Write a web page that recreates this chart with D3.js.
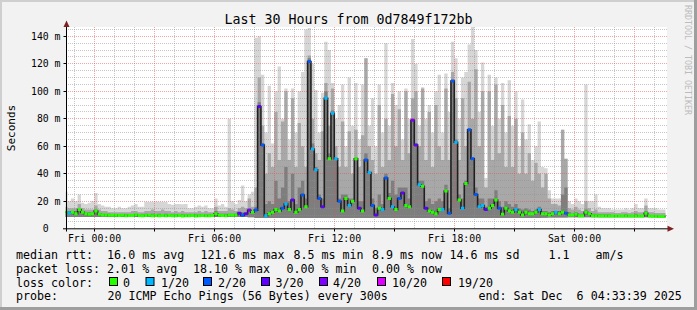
<!DOCTYPE html>
<html><head><meta charset="utf-8">
<script src="https://cdn.jsdelivr.net/npm/d3@7"></script>
<style>
html,body{margin:0;padding:0;background:#F2F2F2;}
svg{display:block;}
text{font-family:"DejaVu Sans Mono",monospace;fill:#000;white-space:pre;}
</style></head><body>
<svg id="chart" width="697" height="310"></svg>
<script>
// ---------------- data ----------------
const title = "Last 30 Hours from 0d7849f172bb";
const yAxisTitle = "Seconds";
const watermark = "RRDTOOL / TOBI OETIKER";
const stepMinutes = 10;
const firstStep = Date.UTC(2025, 11, 4, 22, 30, 0);
const startTime = Date.UTC(2025, 11, 4, 22, 33, 39);
const endTime = Date.UTC(2025, 11, 6, 4, 33, 39);
const yTicks = [0, 20, 40, 60, 80, 100, 120, 140];
const yTickLabels = ["0", "20 m", "40 m", "60 m", "80 m", "100 m", "120 m", "140 m"];

// median rtt (ms) per 10-minute step
const median = [
 12,11.5,12,11,14,12,11,10.5,11,13,
 10.5,10,10,9.8,9.8,9.8,9.6,9.8,9.5,9.6,
 9.7,10.2,9.6,9.5,9.6,9.8,9.5,9.6,9.5,9.7,
 9.5,9.6,9.5,9.5,9.6,9.4,9.5,9.5,9.6,9.4,
 9.5,9.6,9.5,9.5,9.6,11,9.8,9.6,9.5,10,
 9.8,10,11.3,9.8,11,13.5,12,13.6,89,61,
 9.5,11,12,14,13,15,18,14,21,12,
 14,24.5,16,121.6,58,43,22,16,95,51,
 84,51,20,13,22,17,20,51,15,13,
 50,41,17,10,15,14,37,22,16,14,
 22,26,17,16,79,61,32,31,15,13,
 12,11,14,14,27.5,11.3,107.5,63,21,15,
 33,72,51,25,16,17,14,15,17,21,
 15,10.5,15,13,12,14,12,10,12,11,
 11,12,14,11,11,10,11,12,11,12,
 11.3,10,10,10.5,9.5,9.5,12,11,9.5,9.5,
 9.4,9.3,9.4,9.3,9.4,9.3,9.3,9.4,9.3,9.4,
 9.3,9.4,9.3,9.4,11.3,9.4,9.2,9.1,9.0,9.0,
 8.9];
// lost pings out of 20 per step
const loss = [
 0,1,0,0,0,0,0,0,0,0,
 0,0,0,0,0,0,0,0,0,0,
 0,0,0,0,0,0,0,0,0,0,
 0,0,0,0,0,0,0,0,0,0,
 0,0,0,0,0,0,0,0,0,0,
 0,0,3,2,3,4,0,2,3,2,
 1,0,0,0,0,2,1,0,3,0,
 0,2,0,2,1,1,2,3,1,0,
 1,1,2,0,0,1,0,0,3,0,
 2,1,2,3,0,1,2,0,1,0,
 2,3,0,0,4,3,1,0,3,0,
 0,0,0,1,0,2,2,1,0,1,
 0,2,2,2,1,1,3,0,0,0,
 2,0,0,0,0,1,0,0,0,0,
 0,0,1,0,0,0,0,1,0,0,
 2,0,0,0,0,0,0,0,0,0,
 0,0,0,0,0,0,0,0,0,0,
 0,0,0,0,0,0,0,0,0,0,
 0];
// smoke: lowest ping, dense core top, upper body top and highest ping (ms)
const pingMin = [
 8.6,8.6,8.5,8.6,8.6,8.5,8.6,8.6,8.5,8.6,
 8.6,8.5,8.6,8.6,8.5,8.6,8.6,8.5,8.6,8.6,
 8.5,8.6,8.6,8.5,8.6,8.6,8.5,8.6,8.6,8.5,
 8.6,8.6,8.5,8.6,8.6,8.5,8.6,8.6,8.5,8.6,
 8.6,8.5,8.6,8.6,8.5,8.6,8.6,8.5,8.6,8.6,
 8.5,8.6,8.6,8.5,8.6,8.4,8.4,7.8,7.8,7.9,
 7.8,7.8,7.9,7.8,7.8,7.9,7.8,7.8,7.9,7.8,
 7.8,7.9,7.8,7.8,7.9,7.8,7.8,7.9,7.8,7.8,
 7.9,7.8,7.8,7.9,7.8,7.8,7.9,7.8,7.8,7.9,
 7.8,7.8,7.9,7.8,7.8,7.9,7.8,7.8,7.9,7.8,
 7.8,7.9,7.8,7.8,7.9,7.8,7.8,7.9,7.8,7.8,
 7.9,7.8,7.8,7.9,7.8,7.8,7.9,7.8,7.8,7.9,
 7.8,7.8,7.9,7.8,7.8,7.9,7.8,7.8,7.9,7.8,
 7.8,7.9,7.8,7.8,7.9,7.8,7.8,7.9,7.8,7.8,
 7.9,7.8,7.8,8.0,8.1,8.2,8.3,8.3,8.3,8.3,
 8.3,8.4,8.4,8.4,8.4,8.4,8.4,8.4,8.4,8.4,
 8.4,8.4,8.4,8.4,8.4,8.4,8.4,8.4,8.4,8.4,
 8.4,8.4,8.4,8.4,8.4,8.4,8.4,8.4,8.4,8.4,
 8.4];
const pingMid = [
 13,13,13,13,15,13,12,12,12,14,
 11.5,11,11,11,10.5,10.5,10.5,10.5,10.5,10.5,
 10.5,11,10.5,10.5,11,10.5,11,10.5,11,10.5,
 11,10.5,10.5,10.5,10.5,10.5,10.5,10.5,10.5,10.5,
 10.5,10.5,10.5,10.5,10.5,13,11,11,11,11,
 11,11,12,12,12,15,13,16,92,62,
 18,20,18,35,22,30,45,20,40,18,
 30,35,22,124,62,45,25,22,100,55,
 86,50,22,25,25,22,22,52,20,20,
 55,42,22,15,25,18,40,26,35,25,
 30,30,30,22,80,62,35,35,20,22,
 18,20,22,20,32,15,108,65,25,22,
 35,72,52,30,22,22,16,22,22,28,
 20,16,20,18,16,18,15,14,15,14,
 13,14,16,13,13,12,13,13,13,25,
 30,12,11,12,11,11,14,12,11,11,
 10.5,10.5,10.5,10.5,10,10,10,10,10.5,10,
 10,11,10,10,13,10,10,10,10,10,
 10];
const pingHigh = [
 16,15,15,15,18,15,14,14,14,17,
 14,13,13,12,12,12,12,12,12,12,
 13,13,12,12,13,13,14,13,13,14,
 13,13,12,13,12,13,12,12,12,12,
 13,12,13,12,12,16,13,13,13,15,
 14,13,15,16,15,22,16,30,110,75,
 40,55,45,85,50,78,100,50,95,45,
 77,60,45,126,80,55,50,71,106,75,
 102,60,45,78,45,71,40,72,45,68,
 124,60,50,40,90,45,80,50,98,60,
 87,50,100,55,95,100,60,102,50,85,
 45,90,60,50,102,50,114,95,50,95,
 60,107,80,116,60,100,30,100,50,105,
 55,90,45,82,45,80,40,70,40,55,
 35,48,40,30,40,22,18,18,17,72,
 51,15,14,16,14,13,20,15,13,14,
 12,12,12,12,12,11.5,11.5,12,12,11.5,
 12,13,12,12,17,12,12,11.5,11.5,11.5,
 11.5];
const pingMax = [
 27,20,22,20,25,19,18,19,20,26,
 18,17,16,16,15,15,16,15,15,16,
 17,18,16,16,19.7,19.5,19.7,19.8,19.6,19.7,
 19.5,18,17.5,18,18,17.8,18,15,15,16,
 17,16,17,15,15,22,17,18,16,80,
 20,18,21,31.5,20,25,27,139,140,112,
 70,104,62,100,118,80,102,65,102,70,
 100,114,145,146,120,101,70,99,136,130,
 106,80,90,105,60,110,75,106,65,105,
 124,75,95,60,105,70,135,75,106,90,
 100,65,102,80,138,120,75,103,80,90,
 70,100,112,70,113,85,136,124,80,110,
 114,134,147,130,85,121,37,112,75,110,
 80,106,70,108,75,100,60,94,65,76,
 50,60,78,45,44,28,22,22,22,72,
 51,20,18,22,20,18,105,20,20,25,
 16,15,15,15,14,14,14,14,15,14,
 15,18,15,15,22,15,15,15,14,14,
 14];

const lossThresholds = [0, 1, 2, 3, 4, 10, 19];
const lossLabels = ["0", "1/20", "2/20", "3/20", "4/20", "10/20", "19/20"];
const lossColors = ["#26ff00", "#00b8ff", "#0059ff", "#5e00ff", "#7e00ff", "#dd00ff", "#ff0000"];

const rttStats = [16.0, 121.6, 8.5, 8.9, 14.6];   // avg, max, min, now, sd
const rttAmS = 1.1;
const lossStats = [2.01, 18.10, 0.00, 0.00];    // avg, max, min, now
const probeText = "20 ICMP Echo Pings (56 Bytes) every 300s";
const endText = "end: Sat Dec  6 04:33:39 2025";

// ---------------- drawing ----------------
const W = 697, H = 310;
const svg = d3.select("#chart");
const plot = {left: 66, top: 27, right: 667, bottom: 229};

svg.append("rect").attr("width", W).attr("height", H).attr("fill", "#F2F2F2");
svg.append("rect").attr("x", 0).attr("y", 0).attr("width", W).attr("height", 2).attr("fill", "#CFCFCF");
svg.append("rect").attr("x", 0).attr("y", 0).attr("width", 2).attr("height", H).attr("fill", "#CFCFCF");
svg.append("rect").attr("x", W - 3).attr("y", 0).attr("width", 3).attr("height", H).attr("fill", "#9E9E9E");
svg.append("rect").attr("x", 0).attr("y", H - 3).attr("width", W).attr("height", 3).attr("fill", "#9E9E9E");

svg.append("rect").attr("x", plot.left).attr("y", plot.top)
  .attr("width", plot.right - plot.left).attr("height", plot.bottom - plot.top).attr("fill", "#fff");

const x = d3.scaleUtc().domain([new Date(startTime), new Date(endTime)]).range([65.5, 665.5]);
const y = d3.scaleLinear().domain([0, 147]).range([228.8, 26.7]);

svg.append("clipPath").attr("id", "pclip").append("rect")
  .attr("x", 65.5).attr("y", plot.top).attr("width", 600).attr("height", 228.8 - plot.top);

const n = median.length;
const pts = d3.range(n).map(i => ({
  t: new Date(firstStep + i * stepMinutes * 60000),
  med: median[i], loss: loss[i], lo: pingMin[i], mid: pingMid[i], hi: pingHigh[i], mx: pingMax[i]
}));
const ptsExt = pts.concat([Object.assign({}, pts[n - 1], {t: new Date(firstStep + n * stepMinutes * 60000)})]);

const g = svg.append("g").attr("clip-path", "url(#pclip)");
const band = (key, color) => {
  const a = d3.area().curve(d3.curveStepAfter)
    .x(d => x(d.t)).y0(d => y(d.lo)).y1(d => y(d[key]));
  g.append("path").datum(ptsExt).attr("d", a).attr("fill", color);
};
band("mx", "#d6d6d6");
band("hi", "#a8a8a8");
band("mid", "#7e7e7e");

// grid (drawn over smoke like rrdtool)
const grid = svg.append("g");
const minorY = d3.range(5, 147, 5).filter(v => v % 20 !== 0);
grid.selectAll("line.hmin").data(minorY).join("line")
  .attr("x1", plot.left).attr("x2", plot.right)
  .attr("y1", d => Math.floor(y(d)) + 0.5).attr("y2", d => Math.floor(y(d)) + 0.5)
  .attr("stroke", "rgba(143,143,143,0.5)").attr("stroke-dasharray", "1,1");
const hours = d3.utcHour.range(new Date(startTime), new Date(endTime));
grid.selectAll("line.vmin").data(hours.filter(h => h.getUTCHours() % 3 !== 0)).join("line")
  .attr("y1", plot.top).attr("y2", 228)
  .attr("x1", d => Math.floor(x(d)) + 0.5).attr("x2", d => Math.floor(x(d)) + 0.5)
  .attr("stroke", "rgba(143,143,143,0.5)").attr("stroke-dasharray", "1,1");
grid.selectAll("line.hmaj").data(yTicks.filter(v => v > 0)).join("line")
  .attr("x1", plot.left).attr("x2", plot.right)
  .attr("y1", d => Math.floor(y(d)) + 0.5).attr("y2", d => Math.floor(y(d)) + 0.5)
  .attr("stroke", "rgba(222,80,80,0.5)").attr("stroke-dasharray", "1,1");
const majorHours = hours.filter(h => h.getUTCHours() % 3 === 0);
grid.selectAll("line.vmaj").data(majorHours).join("line")
  .attr("y1", plot.top).attr("y2", 228)
  .attr("x1", d => Math.floor(x(d)) + 0.5).attr("x2", d => Math.floor(x(d)) + 0.5)
  .attr("stroke", "rgba(222,80,80,0.5)").attr("stroke-dasharray", "1,1");

// median line
const g2 = svg.append("g").attr("clip-path", "url(#pclip)");
g2.append("path").datum(ptsExt)
  .attr("d", d3.line().curve(d3.curveStepAfter).x(d => x(d.t)).y(d => y(d.med)))
  .attr("fill", "none").attr("stroke", "#202020").attr("stroke-width", 1.6);
const colorFor = l => lossColors[lossThresholds.findIndex(th => l <= th)];
g2.selectAll("line.seg").data(pts).join("line")
  .attr("x1", (d, i) => x(d.t)).attr("x2", (d, i) => x(ptsExt[i + 1].t))
  .attr("y1", d => y(d.med)).attr("y2", d => y(d.med))
  .attr("stroke", d => colorFor(d.loss)).attr("stroke-width", 3);

// axes
const ax = svg.append("g");
ax.append("line").attr("x1", 63).attr("x2", 668).attr("y1", 228.8).attr("y2", 228.8)
  .attr("stroke", "#000").attr("stroke-width", 1);
ax.append("line").attr("x1", 66.5).attr("x2", 66.5).attr("y1", 26).attr("y2", 231.5)
  .attr("stroke", "#000").attr("stroke-width", 1);
ax.selectAll("line.xt").data(majorHours).join("line")
  .attr("x1", d => Math.floor(x(d)) + 0.5).attr("x2", d => Math.floor(x(d)) + 0.5)
  .attr("y1", 229).attr("y2", 231.5).attr("stroke", "#000");
ax.selectAll("line.yt").data(yTicks.filter(v => v > 0)).join("line")
  .attr("x1", 63.5).attr("x2", 66.5)
  .attr("y1", d => Math.floor(y(d)) + 0.5).attr("y2", d => Math.floor(y(d)) + 0.5).attr("stroke", "#000");
ax.append("path").attr("d", "M66.5,20.5 L63.5,27 L69.5,27 Z").attr("fill", "#801F1F");
ax.append("path").attr("d", "M674,228.8 L667.5,225.8 L667.5,231.8 Z").attr("fill", "#801F1F");

// y labels
svg.selectAll("text.yl").data(yTicks).join("text")
  .attr("x", (d, i) => yTickLabels[i].includes("m") ? 60.5 : 60.5 - 2 * 5.9)
  .attr("y", d => y(d) + 3.6)
  .attr("text-anchor", "end").style("font-size", "9.8px")
  .text((d, i) => yTickLabels[i]);

// x labels
const fmt = d3.utcFormat("%a %H:%M");
svg.selectAll("text.xl").data(hours.filter(h => h.getUTCHours() % 6 === 0)).join("text")
  .attr("x", d => Math.floor(x(d)) + 0.5).attr("y", 241.5)
  .attr("text-anchor", "middle").style("font-size", "9.8px")
  .text(d => fmt(d));

// title, axis title, watermark
svg.append("text").attr("x", 348.5).attr("y", 24).attr("text-anchor", "middle")
  .style("font-size", "13.3px").text(title);
svg.append("text").attr("transform", "translate(14.5,128) rotate(-90)").attr("text-anchor", "middle")
  .style("font-size", "11px").text(yAxisTitle);
svg.append("text").attr("transform", "translate(684.5,5) rotate(90)").attr("text-anchor", "start")
  .style("font-size", "8.3px").style("fill", "#bcbcbc").text(watermark);

// legend
const lf = "11.65px";
const leg = (txt, lx, ly) => svg.append("text").attr("x", lx).attr("y", ly).style("font-size", lf).text(txt);
const f1 = v => v.toFixed(1), f2 = v => v.toFixed(2);
const L1 = 259, L2 = 272.8, L3 = 286.6, L4 = 300.4;
leg("median rtt:  " + f1(rttStats[0]) + " ms avg", 16, L1);
leg(f1(rttStats[1]) + " ms max", 200.5, L1);
leg(f1(rttStats[2]) + " ms min", 293.5, L1);
leg(f1(rttStats[3]) + " ms now", 372, L1);
leg(f1(rttStats[4]) + " ms sd", 449.5, L1);
leg(f1(rttAmS), 548.5, L1);
leg("am/s", 595.5, L1);
leg("packet loss: " + f2(lossStats[0]) + " % avg", 16, L2);
leg(f2(lossStats[1]) + " % max", 193, L2);
leg(f2(lossStats[2]) + " % min", 286.5, L2);
leg(f2(lossStats[3]) + " % now", 372, L2);
leg("loss color:", 16, L3);
const boxX = [109, 145.5, 203, 261, 319, 377, 442];
const labX = [123, 161, 218, 275.5, 333, 392, 458];
lossLabels.forEach((lab, k) => {
  svg.append("rect").attr("x", boxX[k] + 0.5).attr("y", 277.5).attr("width", 8).attr("height", 8)
    .attr("fill", lossColors[k]).attr("stroke", "#000").attr("stroke-width", 1);
  leg(lab, labX[k], L3);
});
leg("probe:", 16, L4);
leg(probeText, 107.5, L4);
leg(endText, 478.5, L4);
</script>
</body></html>
